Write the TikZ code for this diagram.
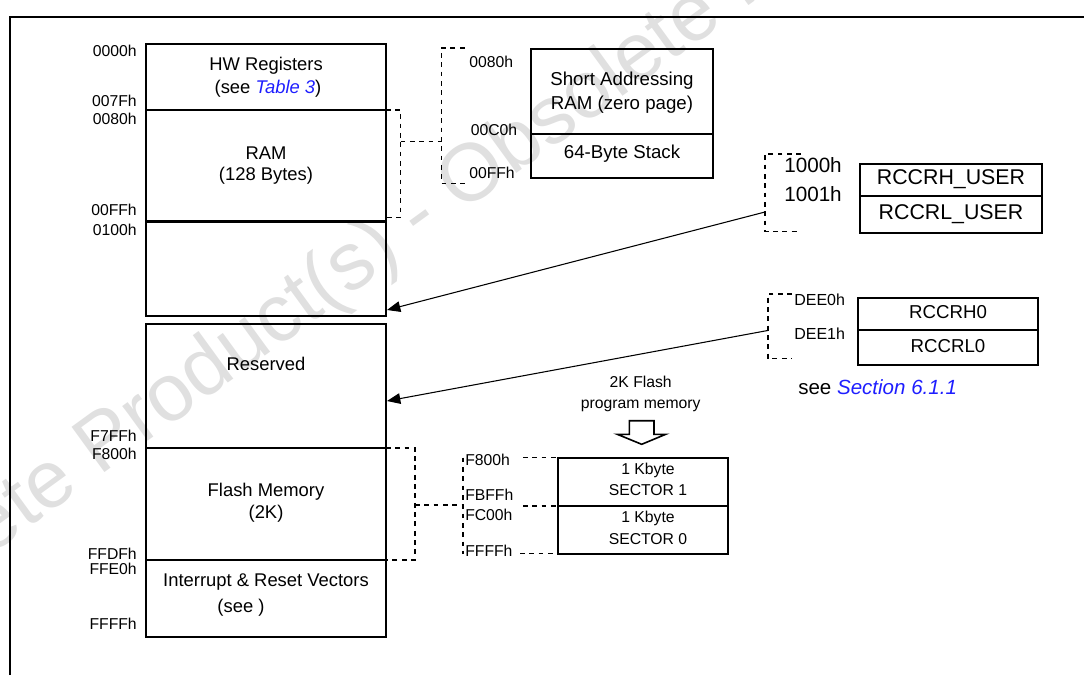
\documentclass[tikz,border=0pt]{standalone}
\usepackage{fontspec}
\setmainfont{Liberation Sans}
\usetikzlibrary{arrows.meta}
\definecolor{lnk}{RGB}{30,30,255}
\begin{document}
\begin{tikzpicture}[x=0.75pt,y=-0.75pt,
  tx/.style={inner sep=0pt, text height=0.716em, text depth=0pt},
  fmain/.style={tx, font=\fontsize{13.8}{16}\selectfont},
  fsm/.style={tx, font=\fontsize{11.8}{14}\selectfont},
  addr/.style={fsm, anchor=east},
  sadr/.style={fsm, anchor=west},
  cell/.style={draw, line width=1.5pt, inner sep=0pt},
  dsh/.style={line width=1.2pt, dash pattern=on 3.6pt off 3.4pt},
  arr/.style={-{Triangle[length=10pt,width=8pt]}, line width=0.8pt},
]
\useasboundingbox (0,0) rectangle (1084,675);

% watermark (behind)
\begin{scope}
\clip (0,0) rectangle (1084,675);
\node[inner sep=0pt, text=black!12, rotate=36, font=\fontsize{61}{61}\selectfont] (wm) at (420,218) {Obsolete Product(s) - Obsolete Product(s)};
\end{scope}

% frame
\draw[line width=1.5pt] (10,675) -- (10,17) -- (1084,17);

% main memory map
\node[cell, minimum width=180pt, minimum height=49.5pt] (hw) at (265.8,76.9) {};
\node[cell, minimum width=180pt, minimum height=83.6pt] (ram) at (265.8,165.75) {};
\node[cell, minimum width=180pt, minimum height=71.1pt] (blank) at (265.8,268.9) {};
\node[cell, minimum width=180pt, minimum height=93pt] (res) at (265.8,385.8) {};
\node[cell, minimum width=180pt, minimum height=83.9pt] (flash) at (265.8,503.75) {};
\node[cell, minimum width=180pt, minimum height=57.6pt] (vec) at (265.8,598.1) {};

\node[fmain] (t1) at (266,66) {HW Registers};
\node[fmain] (t2) at (268,89) {(see \textcolor{lnk}{\itshape Table 3})};
\node[fmain] (t3) at (266,155) {RAM};
\node[fmain] (t4) at (266,176) {(128 Bytes)};
\node[fmain] (t5) at (266,366) {Reserved};
\node[fmain] (t6) at (266,492) {Flash Memory};
\node[fmain] (t7) at (266,514) {(2K)};
\node[fmain] (t8) at (266,582) {Interrupt \& Reset Vectors};
\node[fmain] (t9) at (241,608) {(see )};

% addresses
\node[addr] (a0) at (137,52) {0000h};
\node[addr] (a1) at (137,102) {007Fh};
\node[addr] (a2) at (137,120) {0080h};
\node[addr] (a3) at (137,211) {00FFh};
\node[addr] (a4) at (137,231) {0100h};
\node[addr] (a5) at (137,437) {F7FFh};
\node[addr] (a6) at (137,455) {F800h};
\node[addr] (a7) at (137,555) {FFDFh};
\node[addr] (a8) at (137,570) {FFE0h};
\node[addr] (a9) at (137,625) {FFFFh};

% RAM brackets
\draw[dsh] (386,110) -- (400.5,110) -- (400.5,217.6) -- (386,217.6);
\draw[dsh] (400.5,141.5) -- (441.5,141.5);
\draw[dsh] (464.5,48) -- (441.5,48) -- (441.5,183.5) -- (464.5,183.5);
\node[sadr] (z0) at (469,63) {0080h};
\node[sadr] (z1) at (470.5,131) {00C0h};
\node[sadr] (z2) at (469,174) {00FFh};

% zero page box
\node[cell, minimum width=135.8pt, minimum height=63.7pt] (sa) at (622,91.45) {};
\node[cell, minimum width=135.8pt, minimum height=32.9pt] (st) at (622,155.85) {};
\node[tx, font=\fontsize{14}{16}\selectfont] (sa1) at (622,80.5) {Short Addressing};
\node[tx, font=\fontsize{14}{16}\selectfont] (sa2) at (622,104.5) {RAM (zero page)};
\node[tx, font=\fontsize{14}{16}\selectfont] (st1) at (622,154) {64-Byte Stack};

% RCCR user
\draw[dsh] (801,154) -- (765,154) -- (765,231.3) -- (801,231.3);
\coordinate (b3m) at (765,212);
\coordinate (e3) at (387,310);
\draw[arr] (b3m) -- (e3);
\node[tx, font=\fontsize{15.5}{18}\selectfont, anchor=west] (u0) at (784,168) {1000h};
\node[tx, font=\fontsize{15.5}{18}\selectfont, anchor=west] (u1) at (784,197) {1001h};
\node[cell, minimum width=135.8pt, minimum height=24.2pt, tx, font=\fontsize{16}{18}\selectfont] (ru) at (951,180.15) {RCCRH\_USER};
\node[cell, minimum width=135.8pt, minimum height=27.15pt, tx, font=\fontsize{16}{18}\selectfont] (rl) at (951,214.4) {RCCRL\_USER};

% RCCR0
\draw[dsh] (792,294) -- (767.7,294) -- (767.7,358.3) -- (792,358.3);
\coordinate (b4m) at (767.7,330.5);
\coordinate (e4) at (387,401);
\draw[arr] (b4m) -- (e4);
\node[tx, font=\fontsize{12}{14}\selectfont, anchor=west] (d0) at (794,300.5) {DEE0h};
\node[tx, font=\fontsize{12}{14}\selectfont, anchor=west] (d1) at (794,334.5) {DEE1h};
\node[cell, minimum width=135.7pt, minimum height=24.5pt, tx, font=\fontsize{14}{16}\selectfont] (r0h) at (948,313.85) {RCCRH0};
\node[cell, minimum width=135.7pt, minimum height=26.1pt, tx, font=\fontsize{14}{16}\selectfont] (r0l) at (948,347.6) {RCCRL0};
\node[tx, font=\fontsize{15.4}{18}\selectfont, anchor=west] (sec) at (798,390) {see \textcolor{lnk}{\itshape Section 6.1.1}};

% 2K flash
\node[fsm] (f1) at (640.7,382.5) {2K Flash};
\node[fsm] (f2) at (640.7,404) {program memory};
\draw[line width=1.2pt, fill=white] (629.3,420.7) -- (654,420.7) -- (654,434.3) -- (665.7,434.3) -- (641.7,444.3) -- (617.3,434.3) -- (629.3,434.3) -- cycle;

% flash brackets
\draw[dsh] (386,447.8) -- (415,447.8) -- (415,559.7) -- (386,559.7);
\draw[dsh] (415,505) -- (463,505);
\draw[dsh] (463,457.6) -- (463,553.6);
\draw[dsh] (523,457.6) -- (558.4,457.6);
\draw[dsh] (523,505.8) -- (558.4,505.8);
\draw[dsh] (520,553.6) -- (558.4,553.6);
\node[sadr] (g0) at (465,461) {F800h};
\node[sadr] (g1) at (465,495.5) {FBFFh};
\node[sadr] (g2) at (465,515.5) {FC00h};
\node[sadr] (g3) at (465,551.5) {FFFFh};

\node[cell, minimum width=127pt, minimum height=36.15pt] (s1) at (643,481.7) {};
\node[cell, minimum width=127pt, minimum height=35.85pt] (s0) at (643,529.7) {};
\node[fsm] (s1a) at (648,470) {1 Kbyte};
\node[fsm] (s1b) at (648,491.2) {SECTOR 1};
\node[fsm] (s0a) at (648,517.8) {1 Kbyte};
\node[fsm] (s0b) at (648,539.4) {SECTOR 0};
\end{tikzpicture}
\end{document}
